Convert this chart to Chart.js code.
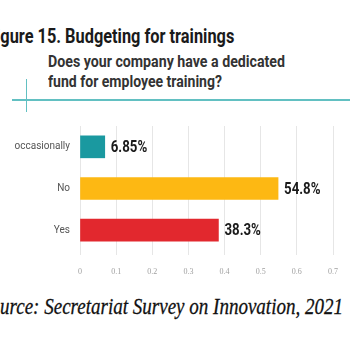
<!DOCTYPE html>
<html><head><meta charset="utf-8">
<script src="https://cdn.jsdelivr.net/npm/chart.js@4"></script>
<style>
html,body{margin:0;padding:0;background:#fff;width:350px;height:350px;overflow:hidden;position:relative;}
.t{position:absolute;white-space:nowrap;transform-origin:0 50%;line-height:1;}
#title{font-family:"Liberation Sans Narrow","Roboto","Liberation Sans",sans-serif;font-weight:bold;font-size:20px;color:#1a1a1a;}
.sub{font-family:"Liberation Sans Narrow","Roboto","Liberation Sans",sans-serif;font-weight:bold;font-size:16px;color:#333;}
#src{font-family:"Liberation Serif","DejaVu Serif",serif;font-style:italic;font-size:24px;color:#111;-webkit-text-stroke:0.3px #111;}
.ln{position:absolute;background:#62c0c2;}
canvas{position:absolute;left:0;top:0;}
</style></head><body>
<div id="title" class="t"><span class="pre">Fi</span>gure 15. Budgeting for trainings</div>
<div id="s1" class="t sub">Does your company have a dedicated</div>
<div id="s2" class="t sub">fund for employee training?</div>
<div id="src" class="t"><span class="pre">So</span>urce: Secretariat Survey on Innovation, 2021</div>
<div class="ln" style="left:12px;top:99px;width:338px;height:1.5px"></div>
<div class="ln" style="left:25.5px;top:79px;width:1.5px;height:33px"></div>
<canvas id="c" width="350" height="350"></canvas>
<script>
const categories = ["occasionally", "No", "Yes"];
const values = [0.0685, 0.548, 0.383];
const valueLabels = ["6.85%", "54.8%", "38.3%"];
const barColors = ["#1a99a0", "#fdb813", "#e2282e"];
const xTicks = [0, 0.1, 0.2, 0.3, 0.4, 0.5, 0.6, 0.7];

function place(id, x0, x1, yc){
  const el = document.getElementById(id);
  el.style.left = '0px'; el.style.top = '0px';
  const pre = el.querySelector('.pre');
  const preW = pre ? pre.getBoundingClientRect().width : 0;
  const full = el.getBoundingClientRect().width;
  const h = el.getBoundingClientRect().height;
  const s = (x1 - x0) / (full - preW);
  el.style.transform = 'scaleX(' + s + ')';
  el.style.left = (x0 - preW * s) + 'px';
  el.style.top = (yc - h / 2) + 'px';
}
place('title', 0, 234, 36);
place('s1', 48, 285, 62);
place('s2', 48, 222, 82);
place('src', 0, 343, 306);

const valueLabelPlugin = {
  id: 'valueLabels',
  afterDatasetsDraw(chart){
    const ctx = chart.ctx;
    const meta = chart.getDatasetMeta(0);
    ctx.save();
    ctx.fillStyle = '#1a1a1a';
    ctx.textBaseline = 'middle';
    ctx.textAlign = 'left';
    meta.data.forEach((bar, i) => {
      ctx.save();
      ctx.translate(bar.x + 6, bar.y);
      ctx.scale(0.78, 1);
      ctx.font = 'bold 17px "Liberation Sans Narrow","Roboto","Liberation Sans",sans-serif';
      ctx.fillText(valueLabels[i], 0, 1);
      ctx.restore();
    });
    ctx.restore();
  }
};

new Chart(document.getElementById('c'), {
  type: 'bar',
  data: {
    labels: categories,
    datasets: [{ data: values, backgroundColor: barColors, barThickness: 22, borderWidth: 0 }]
  },
  options: {
    indexAxis: 'y',
    responsive: false,
    animation: false,
    events: [],
    layout: { padding: { top: 126, right: 17, left: 0, bottom: 0 } },
    plugins: { legend: { display: false }, tooltip: { enabled: false } },
    scales: {
      x: {
        min: 0, max: 0.7,
        afterBuildTicks(axis){ axis.ticks = xTicks.map(v => ({ value: v })); },
        afterFit(axis){ axis.height = 99; },
        grid: { color: '#e6e6e6', lineWidth: 1, tickLength: 4, drawTicks: true },
        border: { display: false },
        ticks: { color: '#a0a0a0', padding: 12, font: { size: 8, family: '"Liberation Serif","DejaVu Serif",serif' },
                 callback: (v) => String(v) }
      },
      y: {
        afterFit(axis){ axis.width = 80; },
        grid: { display: false, drawTicks: false },
        border: { display: false },
        ticks: { color: '#555', padding: 10, font: { size: 10, family: '"Liberation Sans Narrow","Roboto","Liberation Sans",sans-serif' } }
      }
    }
  },
  plugins: [valueLabelPlugin]
});
</script>
</body></html>
